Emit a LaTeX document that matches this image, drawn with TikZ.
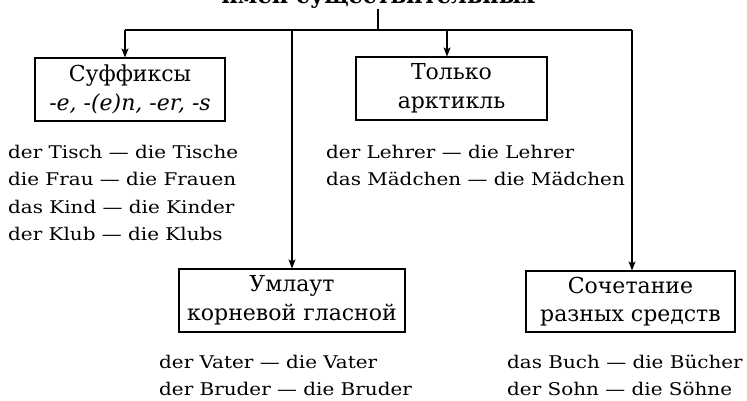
\documentclass[tikz,border=0pt]{standalone}
\usepackage{fontspec}
\setmainfont{DejaVu Serif}
\newfontfamily\exfont[FakeStretch=1.14]{DejaVu Serif}
\usetikzlibrary{arrows.meta}
\tikzset{
  box/.style={draw, line width=1.1pt, inner sep=0pt, align=center,
    font=\fontsize{22}{28.5}\selectfont},
  conn/.style={line width=1.4pt},
  arr/.style={conn, -{Stealth[length=9pt,width=7pt,inset=2pt]}},
  ex/.style={anchor=base west, inner sep=0pt, font=\exfont\fontsize{17.5}{20}\selectfont},
  ttl/.style={anchor=base, inner sep=0pt, font=\fontsize{22.5}{24}\selectfont\bfseries}
}
\begin{document}
\begin{tikzpicture}[x=1pt,y=-1pt]
\path[use as bounding box, fill=white] (0,0) rectangle (747,400);
\clip (0,0) rectangle (747,400);

\node[ttl] (title) at (378,3.5) {имен существительных};

\node[box, minimum width=190pt, minimum height=63pt] (suf) at (130,89.5)
  {Суффиксы\\\itshape -e, -(e)n, -er, -s};
\node[box, minimum width=191pt, minimum height=63pt] (tol) at (451.5,88.5)
  {Только\\арктикль};
\node[box, minimum width=226pt, minimum height=63pt] (uml) at (292,300.5)
  {Умлаут\\корневой гласной};
\node[box, minimum width=209pt, minimum height=61pt] (soc) at (630.5,301.5)
  {Сочетание\\разных средств};

\coordinate (j) at (378,30);
\coordinate (cl) at (125,30);
\coordinate (cr) at (632,30);
\coordinate (c1) at (447,30);
\coordinate (c2) at (292,30);
\draw[conn] (title.south) -- (j);
\draw[conn] (cl) -- (cr);
\draw[arr] (cl) -- (cl |- suf.north);
\draw[arr] (c1) -- (c1 |- tol.north);
\draw[arr] (c2) -- (c2 |- uml.north);
\draw[arr] (cr) -- (cr |- soc.north);

\node[ex] (a1) at (8,158) {der Tisch — die Tische};
\node[ex] (a2) at (8,185.5) {die Frau — die Frauen};
\node[ex] (a3) at (8,213) {das Kind — die Kinder};
\node[ex] (a4) at (8,240.5) {der Klub — die Klubs};

\node[ex] (b1) at (326,158) {der Lehrer — die Lehrer};
\node[ex] (b2) at (326,185.5) {das Mädchen — die Mädchen};

\node[ex] (u1) at (159,368) {der Vater — die Vater};
\node[ex] (u2) at (159,395.5) {der Bruder — die Bruder};

\node[ex] (s1) at (507,368) {das Buch — die Bücher};
\node[ex] (s2) at (507,395.5) {der Sohn — die Söhne};
\end{tikzpicture}
\end{document}
